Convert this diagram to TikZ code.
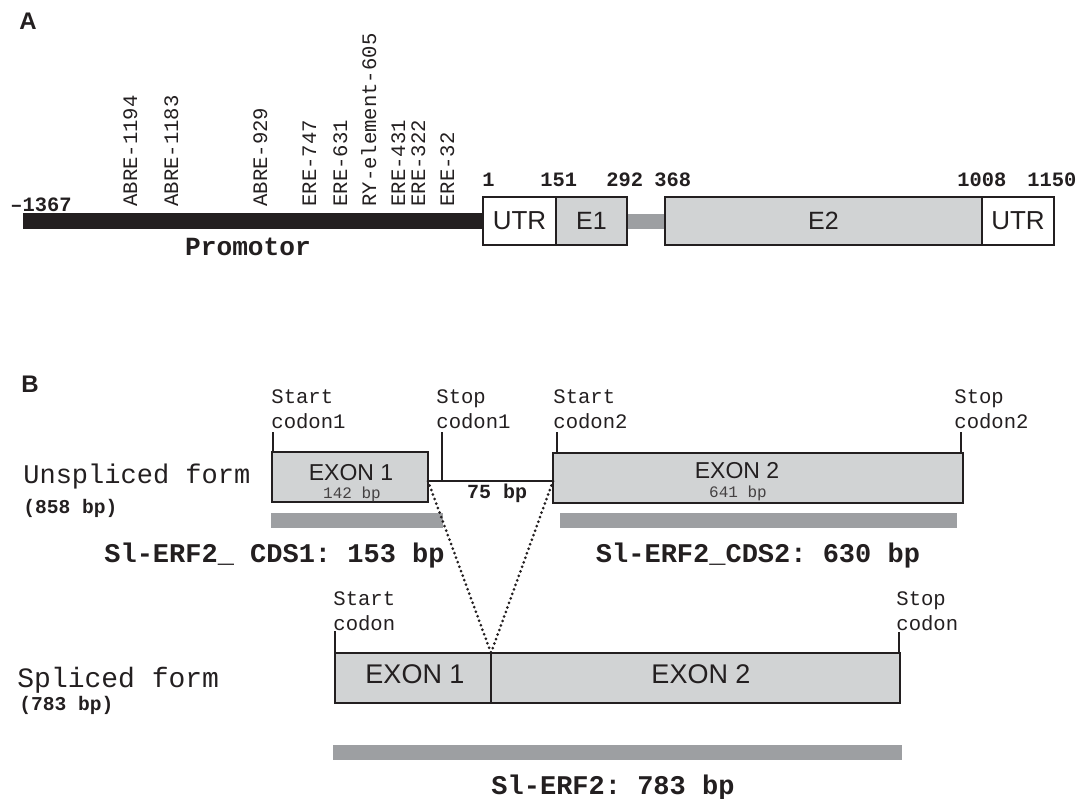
\documentclass[tikz,border=0pt]{standalone}
\usepackage{fontspec}
\setmainfont{Liberation Sans}
\setsansfont{Liberation Sans}
\setmonofont{Liberation Mono}
\usetikzlibrary{positioning}
\definecolor{exongray}{HTML}{D1D3D4}
\definecolor{bargray}{HTML}{9D9FA2}
\definecolor{ink}{HTML}{231F20}

\begin{document}
\begin{tikzpicture}[
  x=0.5pt, y=-0.5pt,
  region/.style={draw=ink, line width=1.3pt, inner sep=0pt, outer sep=0pt,
    minimum height=24pt, font=\sffamily\fontsize{13}{15}\selectfont, text=ink},
  exon/.style={region, fill=exongray},
  utr/.style={region, fill=white},
  cdsbar/.style={fill=bargray, inner sep=0pt, outer sep=0pt, minimum height=7.5pt},
  tick/.style={draw=ink, line width=0.9pt},
  splice/.style={draw=ink, line width=1.5pt, line cap=round, dash pattern=on 0pt off 2.4pt},
  mono/.style={font=\ttfamily\fontsize{10.3}{12.5}\selectfont, inner sep=0pt, text=ink},
  site/.style={mono, rotate=90, anchor=base west},
  codon/.style={mono, align=left, anchor=north west},
  numlbl/.style={font=\ttfamily\bfseries\fontsize{10.2}{12}\selectfont, inner sep=0pt,
    anchor=base west, text=ink},
  rowlbl/.style={font=\ttfamily\fontsize{13.5}{16}\selectfont, inner sep=0pt,
    anchor=base west, text=ink},
  lenlbl/.style={font=\ttfamily\bfseries\fontsize{9.8}{12}\selectfont, inner sep=0pt,
    anchor=base west, text=ink},
  cdslbl/.style={font=\ttfamily\bfseries\fontsize{13.5}{16}\selectfont, inner sep=0pt,
    anchor=base, text=ink},
  exlbl/.style={font=\sffamily\fontsize{11.5}{13}\selectfont, inner sep=0pt, anchor=base, text=ink},
  bplbl/.style={font=\ttfamily\fontsize{8}{10}\selectfont, inner sep=0pt, anchor=base, text=ink!85},
  panel/.style={font=\sffamily\bfseries\fontsize{12}{14}\selectfont, inner sep=0pt,
    anchor=base west, text=ink},
]
\useasboundingbox (0,0) rectangle (1080,798);

% A: promoter and gene
\node[panel] (pA) at (19,29) {A};
\node[utr, minimum width=36.5pt] (utr5) at (519.5,221) {UTR};
\node[exon, minimum width=35.5pt, font=\sffamily\fontsize{12.5}{15}\selectfont] (e1) at (591.5,221) {E1};
\node[exon, minimum width=158.5pt, font=\sffamily\fontsize{12.5}{15}\selectfont] (e2) at (823.5,221) {E2};
\node[utr, minimum width=36pt] (utr3) at (1018,221) {UTR};
\coordinate (p0) at (23,221);
\draw[ink, line width=8pt, shorten >=0.65pt] (p0) -- (utr5.west);
\draw[bargray, line width=7.5pt, shorten >=0.65pt, shorten <=0.65pt] (e1.east) -- (e2.west);
\node[numlbl] (m1367) at (10,211) {–1367};
\foreach \x/\n in {482/1, 540/151, 606/292, 654/368, 957/1008, 1027/1150}
  \node[numlbl] (n\n) at (\x,186) {\n};
\foreach \x/\lab [count=\i] in {137/ABRE-1194, 178/ABRE-1183, 267/ABRE-929, 316/ERE-747,
    347/ERE-631, 376/RY-element-605, 405/ERE-431, 425/ERE-322, 454/ERE-32}
  \node[site] (site\i) at (\x,207) {\lab};
\node[font=\ttfamily\bfseries\fontsize{13.1}{15}\selectfont, inner sep=0pt, anchor=base, text=ink]
  (prom) at (248,255) {Promotor};

% B: unspliced form
\node[panel] (pB) at (21,392) {B};
\node[rowlbl] (uform) at (23,483) {Unspliced form};
\node[lenlbl] (ulen) at (23,513) {(858 bp)};
\node[exon, minimum width=78pt, minimum height=25pt] (ux1) at (350,477) {};
\node[exon, minimum width=205pt, minimum height=25pt] (ux2) at (758,478) {};
\node[exlbl] (ux1t) at (351,480) {EXON 1};
\node[bplbl] (ux1b) at (352,498) {142 bp};
\node[exlbl] (ux2t) at (737,478) {EXON 2};
\node[bplbl] (ux2b) at (738,497) {641 bp};
\coordinate (i1) at (428,481);
\coordinate (i2) at (553,481);
\draw[ink, line width=1pt] (i1) -- (i2);
\node[font=\ttfamily\bfseries\fontsize{10}{12}\selectfont, inner sep=0pt, anchor=base, text=ink]
  (intr) at (497,498) {75 bp};
\coordinate (sc1) at (273,432);
\coordinate (tc1) at (442,432);
\coordinate (sc2) at (557,432);
\coordinate (tc2) at (961,432);
\draw[tick] (sc1) -- (sc1 |- ux1.north);
\draw[tick] (tc1) -- (tc1 |- i1);
\draw[tick] (sc2) -- (sc2 |- ux2.north);
\draw[tick] (tc2) -- (tc2 |- ux2.north);
\node[codon] (lsc1) at (271,389) {Start\\codon1};
\node[codon] (ltc1) at (436,389) {Stop\\codon1};
\node[codon] (lsc2) at (553,389) {Start\\codon2};
\node[codon] (ltc2) at (954,389) {Stop\\codon2};
\node[cdsbar, minimum width=86pt] (cds1) at (357,520.5) {};
\node[cdsbar, minimum width=198.5pt] (cds2) at (758.5,520.5) {};
\node[cdslbl] (cds1t) at (274.5,562) {Sl-ERF2\_ CDS1: 153 bp};
\node[cdslbl] (cds2t) at (758,562) {Sl-ERF2\_CDS2: 630 bp};

% B: spliced form
\node[rowlbl, font=\ttfamily\fontsize{14}{16}\selectfont] (sform) at (17,687) {Spliced form};
\node[lenlbl] (slen) at (19,710) {(783 bp)};
\node[exon, minimum width=78pt, minimum height=25pt] (sx1) at (413,678) {};
\node[exon, minimum width=204.5pt, minimum height=25pt] (sx2) at (695.5,678) {};
\node[exlbl, font=\sffamily\fontsize{13.5}{15}\selectfont] (sx1t) at (415,683) {EXON 1};
\node[exlbl, font=\sffamily\fontsize{13.5}{15}\selectfont] (sx2t) at (701,683) {EXON 2};
\draw[splice] (i1) -- (sx1.north east);
\draw[splice] (i2) -- (sx1.north east);
\coordinate (scs) at (335,631);
\coordinate (tcs) at (899,632);
\draw[tick] (scs) -- (scs |- sx1.north);
\draw[tick] (tcs) -- (tcs |- sx2.north);
\node[codon] (lscs) at (333,591) {Start\\codon};
\node[codon] (ltcs) at (896,591) {Stop\\codon};
\node[cdsbar, minimum width=284.5pt] (cdss) at (617.5,752.5) {};
\node[cdslbl, font=\ttfamily\bfseries\fontsize{13.5}{16}\selectfont] (cdsst) at (613,794) {Sl-ERF2: 783 bp};
\end{tikzpicture}
\end{document}
